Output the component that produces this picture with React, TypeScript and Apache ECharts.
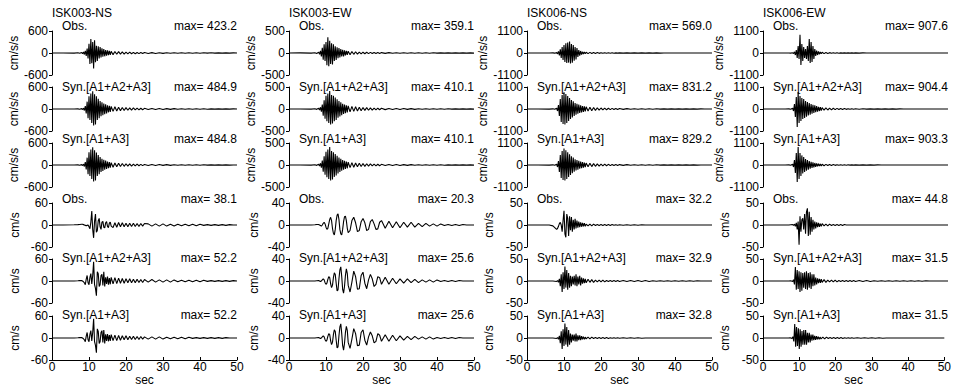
import React, { useEffect, useRef } from "react";
import * as echarts from "echarts";

const stations = ["ISK003-NS", "ISK003-EW", "ISK006-NS", "ISK006-EW"];
const traceNames = ["Obs.", "Syn.[A1+A2+A3]", "Syn.[A1+A3]", "Obs.", "Syn.[A1+A2+A3]", "Syn.[A1+A3]"];
const units = ["cm/s/s", "cm/s/s", "cm/s/s", "cm/s", "cm/s", "cm/s"];
const accelRange = [600, 500, 1100, 1100];
const velRange = [60, 40, 50, 50];
const maxLabels = [
  ["423.2", "484.9", "484.8", "38.1", "52.2", "52.2"],
  ["359.1", "410.1", "410.1", "20.3", "25.6", "25.6"],
  ["569.0", "831.2", "829.2", "32.2", "32.9", "32.8"],
  ["907.6", "904.4", "903.3", "44.8", "31.5", "31.5"],
];

// time samples (sec)
const t = [0, 3, 6, 7, 7.5,
  8, 8.25, 8.5, 8.75, 9, 9.25, 9.5, 9.75,
  10, 10.25, 10.5, 10.75, 11, 11.25, 11.5, 11.75,
  12, 12.25, 12.5, 12.75, 13, 13.25, 13.5, 13.75,
  14, 14.25, 14.5, 14.75, 15, 15.25, 15.5, 15.75, 16,
  16.5, 17, 17.5, 18, 18.5, 19, 19.5, 20,
  20.5, 21, 21.5, 22, 22.5, 23, 23.5, 24, 24.5, 25,
  26, 27, 28, 29, 30, 31, 32, 33, 34, 35, 36, 37, 38,
  39, 40, 41, 42, 43, 44, 45, 46, 47, 48, 49, 50];

// ---- ISK003-NS ----
const ns003AccObs = [0, 2, -3, 5, -8,
  15, -20, 30, -40, 60, -80, 120, -150,
  250, -300, 380, -280, 300, -423.2, 350, -250,
  200, -220, 180, -150, 160, -120, 130, -100,
  110, -90, 80, -70, 75, -60, 55, -50, 45,
  -45, 40, -35, 38, -30, 28, -30, 25,
  -22, 25, -20, 18, -20, 15, -18, 14, -12, 15,
  -12, 10, -12, 9, -10, 8, -9, 8, -7, 6, -7, 6, -5,
  5, -6, 5, -4, 5, -4, 4, -3, 4, -3, 3, -2];
const ns003AccSyn123 = [0, 1, -2, 3, -5,
  10, -15, 25, -40, 80, -120, 200, -250,
  350, -300, 420, -380, 484.9, -450, 400, -420,
  350, -300, 280, -250, 220, -200, 180, -170,
  150, -140, 130, -120, 100, -90, 85, -80, 70,
  -65, 60, -55, 50, -45, 42, -40, 38,
  -35, 32, -30, 28, -26, 24, -22, 20, -20, 18,
  -16, 15, -14, 13, -12, 11, -10, 10, -9, 8, -8, 7, -6,
  6, -5, 5, -5, 4, -4, 4, -3, 3, -3, 3, -2];
const ns003AccSyn13 = [0, 1, -2, 3, -5,
  10, -15, 25, -40, 80, -120, 200, -250,
  350, -300, 420, -380, 484.8, -450, 400, -420,
  340, -300, 270, -250, 220, -190, 170, -160,
  140, -130, 120, -110, 95, -85, 80, -75, 65,
  -60, 55, -50, 46, -42, 40, -36, 34,
  -32, 30, -28, 26, -24, 22, -20, 18, -18, 16,
  -15, 14, -13, 12, -11, 10, -10, 9, -8, 8, -7, 6, -6,
  5, -5, 5, -4, 4, -4, 3, -3, 3, -3, 2, -2];
const ns003VelObs = [0, 0, 0.5, 1, 1.5,
  2, 2, 1, 0, -1, -2, -1, 0,
  -5, -10, 8, 38.1, -12, -35, 10, 30,
  -20, -15, 12, 18, -5, -12, 8, 10,
  -6, -8, 6, 9, -4, -7, 5, 8, -3,
  -7, 6, -6, 7, -5, 6, -5, 5,
  -5, 5, -4, 5, -4, 4, -4, 4, -3, 4,
  3, -3, 3, -3, 3, -3, 2, -3, 2, -2, 2, -2, 2,
  -2, 2, -1, 1, -1, 1, -1, 1, -1, 1, 0, 0];
const ns003VelSyn123 = [0, 0, 0, 0.5, 1,
  1, 0, -2, -5, -10, 5, 15, -5,
  -10, 10, 20, -8, 15, 52.2, -10, -20,
  -40, 25, 20, -15, -10, 15, 18, -12,
  25, -15, 10, -8, 12, -10, 8, -9, 10,
  -8, 9, -7, 8, -6, 7, -6, 6,
  -5, 6, -5, 5, -5, 5, -4, 4, -4, 4,
  -3, 4, -3, 3, -3, 3, -3, 3, -2, 2, -2, 2, -2,
  2, -2, 2, -1, 1, -1, 1, -1, 1, -1, 1, 0];
const ns003VelSyn13 = [0, 0, 0, 0.5, 1,
  1, 0, -2, -5, -10, 5, 15, -5,
  -10, 10, 20, -8, 15, 52.2, -10, -20,
  -40, 25, 18, -15, -10, 15, 20, -12,
  22, -15, 10, -8, 11, -9, 8, -8, 9,
  -7, 8, -7, 7, -6, 6, -5, 6,
  -5, 5, -4, 5, -4, 4, -4, 4, -3, 3,
  -3, 3, -3, 3, -3, 2, -2, 2, -2, 2, -2, 2, -1,
  1, -1, 1, -1, 1, -1, 1, -1, 1, 0, 0, 0];

// ---- ISK003-EW ----
const ew003AccObs = [0, 2, -3, 5, -10,
  20, -30, 50, -80, 120, -150, 200, -180,
  250, -280, 359.1, -300, 280, -250, 220, -260,
  200, -180, 150, -160, 130, -120, 110, -100,
  90, -80, 70, -75, 60, -55, 50, -45, 40,
  -38, 35, -30, 28, -25, 22, -20, 18,
  -18, 16, -15, 14, -12, 12, -11, 10, -10, 9,
  -8, 8, -7, 7, -6, 6, -6, 5, -5, 5, -4, 4, -4,
  4, -3, 3, -3, 3, -3, 2, -2, 2, -2, 2, -2];
const ew003AccSyn123 = [0, 1, -2, 4, -8,
  15, -25, 40, -60, 100, -150, 200, -220,
  300, -280, 350, -320, 410.1, -350, 320, -330,
  300, -280, 260, -250, 220, -200, 180, -170,
  150, -140, 120, -110, 100, -95, 85, -80, 70,
  -65, 60, -55, 50, -45, 42, -38, 35,
  -32, 30, -28, 26, -24, 22, -20, 18, -17, 16,
  -14, 13, -12, 11, -10, 10, -9, 8, -8, 7, -6, 6, -5,
  5, -5, 4, -4, 4, -3, 3, -3, 3, -2, 2, -2];
const ew003AccSyn13 = [0, 1, -2, 4, -8,
  15, -25, 40, -60, 100, -150, 200, -220,
  300, -280, 350, -320, 410.1, -350, 320, -330,
  290, -270, 250, -240, 210, -190, 170, -160,
  140, -130, 115, -105, 95, -90, 80, -75, 65,
  -60, 55, -50, 46, -42, 40, -36, 33,
  -30, 28, -26, 24, -22, 20, -19, 17, -16, 15,
  -13, 12, -11, 10, -10, 9, -8, 8, -7, 7, -6, 5, -5,
  5, -4, 4, -4, 3, -3, 3, -3, 2, -2, 2, -2];
const ew003VelObs = [0, 0, 0, 0.5, 1,
  1, 0, -1, -2, 0, 3, 5, 2,
  -4, -8, -6, 2, 10, 14, 8, -6,
  -15, -18, -8, 8, 18, 20.3, 10, -8,
  -16, -18, -8, 6, 15, 16, 8, -6, -14,
  -10, 8, 14, 4, -12, -10, 6, 12,
  4, -10, -8, 6, 10, 2, -8, -7, 5, 8,
  -6, 7, -5, 6, -5, 5, -4, 5, -4, 3, -3, 3, -2,
  2, -2, 2, -1, 1, -1, 1, -1, 1, 0, 0, 0];
const ew003VelSyn123 = [0, 0, 0, 0, 0.5,
  1, 0, -1, 0, 2, 4, 2, -3,
  -6, -4, 3, 8, 6, -5, -12, -8,
  6, 15, 12, -4, -18, -16, 4, 20,
  25.6, 8, -15, -22, -10, 10, 22, 14, -8,
  -20, -2, 18, 8, -15, -14, 10, 16,
  -4, -14, 2, 12, 4, -10, -6, 8, 6, -6,
  7, -6, 5, -5, 4, -4, 4, -3, 3, -3, 2, -2, 2,
  -2, 2, -1, 1, -1, 1, -1, 1, 0, 0, 0, 0];
const ew003VelSyn13 = [0, 0, 0, 0, 0.5,
  1, 0, -1, 0, 2, 4, 2, -3,
  -6, -4, 3, 8, 6, -5, -12, -8,
  6, 15, 12, -4, -18, -16, 4, 20,
  25.6, 8, -14, -22, -10, 10, 21, 14, -8,
  -19, -2, 17, 8, -14, -13, 10, 15,
  -4, -13, 2, 11, 4, -9, -6, 8, 5, -6,
  6, -6, 5, -5, 4, -4, 3, -3, 3, -2, 2, -2, 2,
  -2, 1, -1, 1, -1, 1, -1, 1, 0, 0, 0, 0];

// ---- ISK006-NS ----
const ns006AccObs = [0, 2, -3, 5, -8,
  20, -40, 80, -120, 180, -250, 300, -350,
  400, -450, 480, -500, 520, -480, 569, -520,
  450, -480, 400, -380, 300, -320, 250, -200,
  150, -130, 100, -80, 60, -50, 45, -40, 35,
  -30, 30, -25, 25, -20, 20, -18, 15,
  -15, 14, -12, 12, -10, 10, -9, 8, -8, 8,
  -7, 6, -6, 6, -5, 5, -5, 4, -4, 4, -4, 3, -3,
  3, -3, 3, -2, 2, -2, 2, -2, 2, -2, 1, -1];
const ns006AccSyn123 = [0, 2, -4, 8, -15,
  40, -100, 200, -350, 500, -650, 700, -750,
  831.2, -780, 750, -700, 650, -600, 550, -500,
  450, -420, 380, -350, 300, -280, 260, -240,
  220, -200, 180, -170, 150, -140, 130, -120, 110,
  -100, 90, -85, 75, -70, 60, -55, 50,
  -45, 42, -40, 35, -32, 30, -28, 26, -24, 22,
  -20, 18, -16, 15, -14, 12, -11, 10, -10, 9, -8, 8, -7,
  7, -6, 6, -5, 5, -5, 4, -4, 4, -3, 3, -3];
const ns006AccSyn13 = [0, 2, -4, 8, -15,
  40, -100, 200, -350, 500, -650, 700, -750,
  829.2, -780, 740, -700, 640, -600, 540, -500,
  440, -410, 370, -340, 290, -270, 250, -230,
  210, -190, 170, -160, 140, -130, 120, -110, 100,
  -90, 85, -80, 70, -65, 58, -52, 48,
  -42, 40, -38, 34, -30, 28, -26, 24, -22, 20,
  -18, 17, -15, 14, -13, 12, -11, 10, -9, 9, -8, 7, -7,
  6, -6, 5, -5, 5, -4, 4, -4, 3, -3, 3, -3];
const ns006VelObs = [0, 0, 0, -2, -6,
  -10, -8, -3, 3, 6, 0, -15, 10,
  32.2, -20, -28, 25, 15, -25, 20, -12,
  18, -15, 12, -10, 14, -8, 10, -6,
  8, -5, 6, -4, 5, -3, 4, -3, 2,
  -2, 2, -2, 2, -1, 1, -1, 1,
  -1, 1, -1, 1, -1, 1, -0.5, 0.5, -0.5, 0.5,
  -0.5, 0.5, -0.5, 0.5, -0.5, 0.5, 0, 0, 0, 0, 0, 0, 0,
  0, 0, 0, 0, 0, 0, 0, 0, 0, 0, 0, 0];
const ns006VelSyn123 = [0, 0, 0, 0, -0.5,
  -1, 1, -3, 5, -12, 15, -25, 20,
  -18, 32.9, -15, 25, -20, 18, -15, 12,
  -12, 10, -8, 12, -10, 15, -12, 10,
  -8, 12, -10, 8, -6, 6, -5, 5, -4,
  4, -3, 3, -3, 2, -2, 2, -2,
  2, -2, 1, -1, 1, -1, 1, -1, 1, -1,
  1, -1, 1, -1, 1, -1, 1, -1, 0.5, -0.5, 0.5, -0.5, 0.5,
  -0.5, 0.5, -0.5, 0.5, -0.5, 0.5, -0.5, 0.5, 0, 0, 0, 0];
const ns006VelSyn13 = [0, 0, 0, 0, -0.5,
  -1, 1, -3, 5, -12, 15, -25, 20,
  -18, 32.8, -15, 25, -20, 18, -15, 10,
  -10, 8, -6, 8, -8, 10, -8, 6,
  -5, 6, -5, 4, -3, 3, -3, 2, -2,
  2, -2, 2, -1, 1, -1, 1, -1,
  1, -1, 1, -1, 0.5, -0.5, 0.5, -0.5, 0.5, -0.5,
  0.5, -0.5, 0.5, -0.5, 0.5, -0.5, 0, 0, 0, 0, 0, 0, 0,
  0, 0, 0, 0, 0, 0, 0, 0, 0, 0, 0, 0];

// ---- ISK006-EW ----
const ew006AccObs = [0, 1, -2, 3, -5,
  10, -30, 60, -100, 150, -250, 350, -300,
  907.6, -600, 450, -400, 300, -250, 200, -300,
  350, -400, 700, -500, 550, -450, 350, -300,
  200, -150, 120, -100, 80, -60, 50, -40, 35,
  -30, 25, -20, 18, -15, 14, -12, 10,
  -9, 8, -8, 7, -6, 6, -5, 5, -5, 4,
  -4, 4, -3, 3, -3, 3, -3, 2, -2, 2, -2, 2, -2,
  2, -2, 2, -1, 1, -1, 1, -1, 1, -1, 1, -1];
const ew006AccSyn123 = [0, 1, -3, 6, -15,
  40, -100, 250, -400, 600, -904.4, 850, -700,
  650, -600, 550, -500, 500, -450, 400, -380,
  350, -320, 300, -280, 250, -230, 210, -200,
  180, -160, 140, -130, 110, -100, 90, -80, 70,
  -60, 55, -50, 45, -40, 36, -32, 30,
  -28, 25, -22, 20, -18, 16, -15, 14, -12, 11,
  -10, 9, -8, 8, -7, 6, -6, 5, -5, 4, -4, 4, -3,
  3, -3, 3, -2, 2, -2, 2, -2, 2, -1, 1, -1];
const ew006AccSyn13 = [0, 1, -3, 6, -15,
  40, -100, 250, -400, 600, -850, 903.3, -700,
  600, -550, 480, -420, 400, -350, 300, -280,
  250, -230, 200, -180, 160, -150, 130, -120,
  100, -90, 80, -70, 60, -55, 50, -45, 40,
  -35, 32, -28, 25, -22, 20, -18, 16,
  -15, 14, -12, 11, -10, 9, -8, 8, -7, 6,
  -6, 5, -5, 4, -4, 4, -3, 3, -3, 3, -2, 2, -2,
  2, -2, 2, -1, 1, -1, 1, -1, 1, -1, 1, -1];
const ew006VelObs = [0, 0, 0, 0, 0.5,
  1, -1, 2, -3, 5, -10, 8, -44.8,
  20, -15, 12, 15, -10, 25, -20, 30,
  38, -25, 30, -22, 18, -15, 12, -10,
  8, -8, 6, -5, 5, -4, 3, -3, 3,
  -2, 2, -2, 2, -1, 1, -1, 1,
  -1, 1, -1, 1, 0, 0, 0, 0, 0, 0,
  0, 0, 0, 0, 0, 0, 0, 0, 0, 0, 0, 0, 0,
  0, 0, 0, 0, 0, 0, 0, 0, 0, 0, 0, 0];
const ew006VelSyn123 = [0, 0, 0, 0, 0.5,
  -1, 3, -8, 31.5, -20, 25, -18, 22,
  -25, 20, -22, 18, -15, 20, -18, 22,
  -20, 18, -15, 20, -18, 15, -12, 15,
  -10, 8, -8, 6, -5, 5, -4, 4, -3,
  3, -3, 2, -2, 2, -2, 2, -2,
  1, -1, 1, -1, 1, -1, 1, -1, 1, -1,
  1, -1, 1, -1, 0.5, -0.5, 0.5, -0.5, 0.5, -0.5, 0.5, -0.5, 0.5,
  -0.5, 0.5, -0.5, 0.5, -0.5, 0.5, 0, 0, 0, 0, 0, 0];
const ew006VelSyn13 = [0, 0, 0, 0, 0.5,
  -1, 3, -8, 31.5, -20, 25, -18, 22,
  -25, 20, -20, 16, -15, 18, -15, 18,
  -15, 12, -10, 12, -10, 8, -6, 8,
  -5, 5, -4, 4, -3, 3, -3, 2, -2,
  2, -2, 2, -1, 1, -1, 1, -1,
  1, -1, 1, -1, 0.5, -0.5, 0.5, -0.5, 0.5, -0.5,
  0.5, -0.5, 0.5, -0.5, 0.5, -0.5, 0.5, -0.5, 0, 0, 0, 0, 0,
  0, 0, 0, 0, 0, 0, 0, 0, 0, 0, 0, 0];

const traces = [
  [ns003AccObs, ns003AccSyn123, ns003AccSyn13, ns003VelObs, ns003VelSyn123, ns003VelSyn13],
  [ew003AccObs, ew003AccSyn123, ew003AccSyn13, ew003VelObs, ew003VelSyn123, ew003VelSyn13],
  [ns006AccObs, ns006AccSyn123, ns006AccSyn13, ns006VelObs, ns006VelSyn123, ns006VelSyn13],
  [ew006AccObs, ew006AccSyn123, ew006AccSyn13, ew006VelObs, ew006VelSyn123, ew006VelSyn13],
];

const FONT = "'Liberation Sans', Arial, Helvetica, sans-serif";
const colLeft = [52, 289, 527, 763];
const colWidth = 185;
const rowZero = [53, 109, 165, 225, 281, 338];
const halfH = 22;
const labelY = [26, 87, 139, 199, 258, 315];
const unitGap = [31, 29, 32, 32];

export default function App() {
  const ref = useRef<HTMLDivElement>(null);
  useEffect(() => {
    if (!ref.current) return;
    const chart = echarts.init(ref.current, undefined, { renderer: "svg" });
    const grid: any[] = [];
    const xAxis: any[] = [];
    const yAxis: any[] = [];
    const series: any[] = [];
    const graphic: any[] = [];
    for (let c = 0; c < 4; c++) {
      graphic.push({
        type: "text", x: colLeft[c], y: 13,
        style: { text: stations[c], fill: "#000", fontSize: 12, fontFamily: FONT, align: "left", verticalAlign: "middle" },
      });
      for (let r = 0; r < 6; r++) {
        const idx = c * 6 + r;
        const range = r < 3 ? accelRange[c] : velRange[c];
        const bottom = r === 5;
        grid.push({ left: colLeft[c], width: colWidth, top: rowZero[r] - halfH, height: halfH * 2 });
        xAxis.push({
          type: "value", gridIndex: idx, min: 0, max: 50, interval: 10,
          show: bottom,
          axisLine: { onZero: false, lineStyle: { color: "#000", width: 1 } },
          axisTick: { show: true, inside: true, length: 3, lineStyle: { color: "#000" } },
          axisLabel: { color: "#000", fontSize: 12, fontFamily: FONT, margin: 1, formatter: (v: number) => String(v) },
          splitLine: { show: false },
          name: bottom ? "sec" : "",
          nameLocation: "middle", nameGap: 11,
          nameTextStyle: { color: "#000", fontSize: 12, fontFamily: FONT },
        });
        yAxis.push({
          type: "value", gridIndex: idx, min: -range, max: range, interval: range,
          axisLine: { show: true, onZero: false, lineStyle: { color: "#000", width: 1 } },
          axisTick: { show: true, inside: false, length: 3, lineStyle: { color: "#000" } },
          axisLabel: { color: "#000", fontSize: 12, fontFamily: FONT, margin: 4, formatter: (v: number) => String(v) },
          splitLine: { show: false },
          name: units[r], nameLocation: "middle", nameRotate: 90, nameGap: unitGap[c],
          nameTextStyle: { color: "#000", fontSize: 12, fontFamily: FONT },
        });
        const vals = traces[c][r];
        series.push({
          type: "line", xAxisIndex: idx, yAxisIndex: idx,
          data: t.map((tt, i) => [tt, vals[i] ?? 0]),
          showSymbol: false, symbol: "none",
          lineStyle: { color: "#000", width: 1.1 },
          itemStyle: { color: "#000" },
          silent: true,
        });
        graphic.push({
          type: "text", x: colLeft[c] + 10, y: labelY[r],
          style: { text: traceNames[r], fill: "#000", fontSize: 12, fontFamily: FONT, align: "left", verticalAlign: "middle" },
        });
        graphic.push({
          type: "text", x: colLeft[c] + colWidth, y: labelY[r],
          style: { text: "max= " + maxLabels[c][r], fill: "#000", fontSize: 12, fontFamily: FONT, align: "right", verticalAlign: "middle" },
        });
      }
    }
    chart.setOption({
      animation: false,
      backgroundColor: "#fff",
      textStyle: { fontFamily: FONT },
      grid, xAxis, yAxis, series, graphic,
    });
    return () => chart.dispose();
  }, []);
  return <div ref={ref} style={{ position: "fixed", left: 0, top: 0, width: 954, height: 388 }} />;
}
